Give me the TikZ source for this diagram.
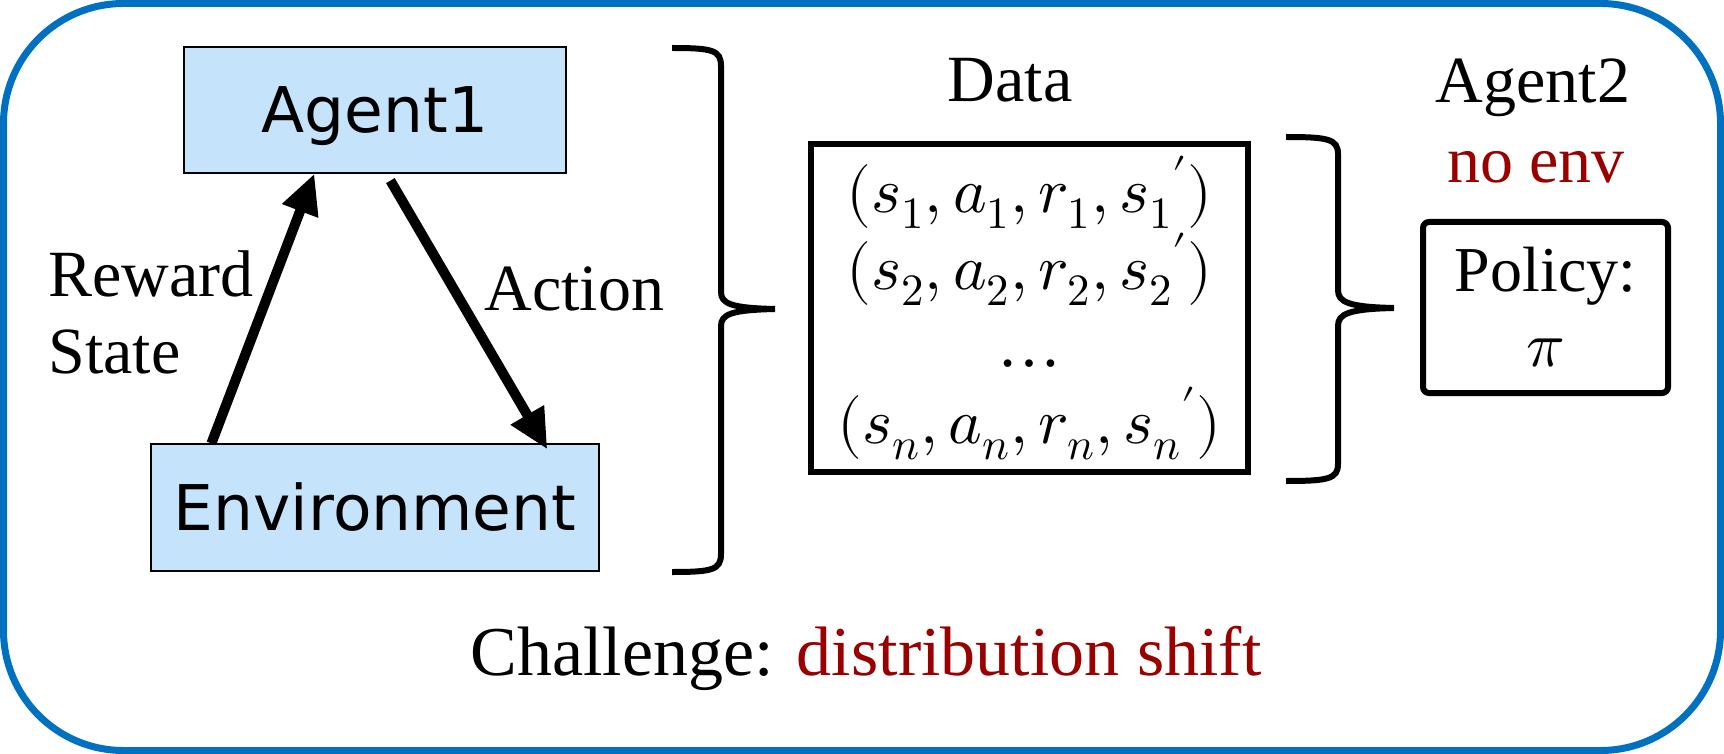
\documentclass[tikz,border=0pt]{standalone}
\usepackage{fontspec}
\usepackage{unicode-math}
\setmainfont{Liberation Serif}
\setmathfont{Latin Modern Math}
\newfontfamily\boxfont{DejaVu Sans}
\usetikzlibrary{arrows.meta,calc}

\definecolor{framebl}{HTML}{0070C0}
\definecolor{boxbl}{HTML}{C5E3FB}
\definecolor{warnred}{HTML}{990000}

\tikzset{
	envbox/.style={draw=black, line width=0.6pt, fill=boxbl, inner sep=0pt,
		text height=23pt, text depth=0pt,
		font=\boxfont\fontsize{31.5}{38}\selectfont},
	datbox/.style={draw=black, line width=3pt, inner sep=0pt, align=center},
	txt/.style={inner sep=0pt, font=\fontsize{33}{38.5}\selectfont},
	bigarrow/.style={line width=5pt, -{Triangle[length=20pt,width=18pt]}},
	brace/.style={line width=3pt}
}

\begin{document}
\begin{tikzpicture}[x=0.5pt, y=-0.5pt]
	\useasboundingbox (0,0) rectangle (1724,754);

	% outer frame
	\draw[framebl, line width=3.5pt, rounded corners=60pt] (3.5,3.5) rectangle (1720.5,750.5);

	% agent and environment
	\node[envbox, minimum width=191pt, minimum height=63pt] (agent) at (375,110) {Agent1};
	\node[envbox, minimum width=224pt, minimum height=63.5pt] (env) at (375,507.5) {Environment};

	\draw[bigarrow] ($(env.north west)+(61,0)$) -- ($(agent.south west)+(131,0)$);
	\draw[bigarrow] ($(agent.south west)+(207,7)$) -- ($(env.north west)+(397,6)$);

	\node[txt, anchor=base west, align=left] (rs) at (48,373) {Reward\\State};
	\node[txt, anchor=base west] (act) at (484,310) {Action};

	% first brace
	\draw[brace] (672,48) .. controls (712,48) and (721,50) .. (721,66) -- (721,292)
		.. controls (721,304) and (732,308) .. (775,309)
		.. controls (732,310) and (721,314) .. (721,326) -- (721,554)
		.. controls (721,570) and (712,572) .. (672,572);

	% data
	\node[txt, anchor=base] (dat) at (1010,102) {Data};
	\node[datbox, minimum width=218.5pt, minimum height=164pt,
		font=\fontsize{32}{38.5}\selectfont] (tuples) at (1029.5,308)
		{$(s_1, a_1, r_1, s_1{}')$\\$(s_2, a_2, r_2, s_2{}')$\\\ldots\\$(s_n, a_n, r_n, s_n{}')$};

	% second brace
	\draw[brace] (1286,137) .. controls (1328,137) and (1338,139) .. (1338,154) -- (1338,290)
		.. controls (1338,302) and (1348,307) .. (1394,308)
		.. controls (1348,309) and (1338,314) .. (1338,326) -- (1338,464)
		.. controls (1338,479) and (1328,481) .. (1286,481);

	% agent2
	\node[txt, anchor=base] (ag2) at (1533,103) {Agent2};
	\node[txt, anchor=base, text=warnred] (noenv) at (1536,183) {no env};
	\node[datbox, rounded corners=3pt, minimum width=122.5pt, minimum height=85.5pt,
		font=\fontsize{32}{37.5}\selectfont] (policy) at (1545.5,307.5) {Policy:\\$\pi$};

	\node[txt, anchor=base, font=\fontsize{35}{40}\selectfont] (chal) at (866,675)
		{Challenge: \textcolor{warnred}{distribution shift}};
\end{tikzpicture}
\end{document}
